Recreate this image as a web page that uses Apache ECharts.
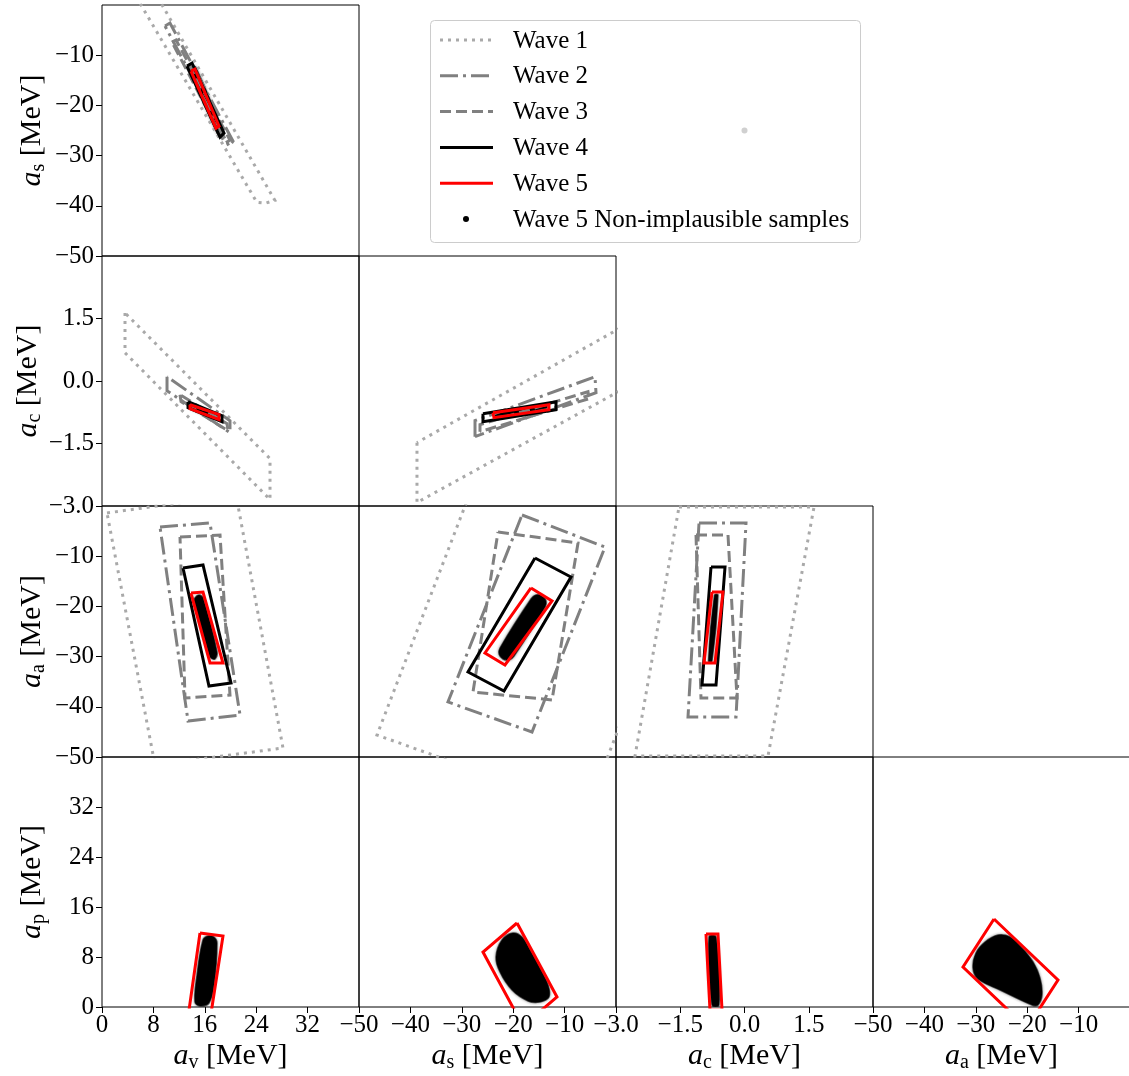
<!DOCTYPE html>
<html>
<head>
<meta charset="utf-8">
<script src="https://cdn.jsdelivr.net/npm/echarts@6/dist/echarts.min.js"></script>
<style>
  html, body { margin: 0; padding: 0; background: #fff; }
  #chart { width: 1129px; height: 1076px; }
</style>
</head>
<body>
<div id="chart"></div>
<script>
// ---- axis ticks for each mass-formula parameter ----
const avTicks = [0, 8, 16, 24, 32];          // volume term
const asTicks = [-50, -40, -30, -20, -10];   // surface term
const acTicks = [-3.0, -1.5, 0.0, 1.5];      // Coulomb term
const aaTicks = [-50, -40, -30, -20, -10];   // asymmetry term
const apTicks = [0, 8, 16, 24, 32];          // pairing term

const waveNames = ['Wave 1', 'Wave 2', 'Wave 3', 'Wave 4', 'Wave 5'];
const sampleName = 'Wave 5 Non-implausible samples';

// ---- non-implausible region outlines, one array per wave and panel ----
// a_v vs a_s
const avAs_w1 = [[4.7, 3], [24.1, -39.3], [25.4, -39.5], [26.9, -38.9], [8.0, 3]];
const avAs_w2 = [[9.81, -4.19], [10.58, -3.59], [20.39, -27.13], [19.77, -28.13]];
const avAs_w3 = [[10.89, -7.38], [11.52, -6.98], [19.92, -26.93], [19.14, -27.53]];
const avAs_w4 = [[13.23, -12.17], [14.01, -11.57], [18.99, -25.53], [18.37, -26.33]];
const avAs_w5 = [[13.85, -13.17], [14.47, -12.77], [18.21, -24.14], [17.74, -24.54]];
const avAs_samples = [[13.9, -12.6], [14.6, -12.4], [18.6, -25.2], [18.0, -25.7]];

// a_v vs a_c
const avAc_w1 = [[3.58, 1.635], [3.58, 0.677], [26.15, -2.844], [26.15, -1.862]];
const avAc_w2 = [[10.12, 0.102], [10.12, -0.234], [19.92, -1.240], [19.92, -0.952]];
const avAc_w3 = [[12.14, -0.329], [12.30, -0.497], [19.61, -1.192], [19.46, -1.024]];
const avAc_w4 = [[13.39, -0.497], [13.39, -0.641], [18.68, -0.976], [18.68, -0.832]];
const avAc_w5 = [[13.70, -0.569], [13.70, -0.665], [18.21, -0.928], [18.21, -0.808]];
const avAc_samples = [[13.9, -0.6], [14.0, -0.68], [18.0, -0.9], [17.9, -0.82]];

// a_s vs a_c
const asAc_w1 = [[-38.72, -1.479], [-38.72, -2.916], [4.67, 0.030], [4.67, 1.539]];
const asAc_w2 = [[-27.43, -1.335], [-27.43, -0.952], [-4.09, 0.102], [-3.89, -0.281]];
const asAc_w3 = [[-26.46, -1.216], [-26.46, -1.048], [-5.45, -0.257], [-5.25, -0.425]];
const asAc_w4 = [[-25.88, -0.784], [-25.88, -0.976], [-11.67, -0.689], [-11.67, -0.497]];
const asAc_w5 = [[-23.93, -0.760], [-23.74, -0.880], [-13.04, -0.689], [-13.04, -0.569]];
const asAc_samples = [[-23.5, -0.78], [-23.4, -0.84], [-13.5, -0.65], [-13.5, -0.6]];

// a_v vs a_a
const avAa_w1 = [[0.78, -1.39], [20.86, 2.19], [28.17, -48.21], [8.25, -51.59]];
const avAa_w2 = [[9.03, -4.18], [16.81, -3.39], [21.48, -41.63], [13.39, -42.83]];
const avAa_w3 = [[12.14, -6.18], [18.37, -5.78], [19.92, -37.65], [12.92, -38.25]];
const avAa_w4 = [[12.61, -12.35], [15.72, -11.75], [20.08, -35.26], [16.65, -35.86]];
const avAa_w5 = [[13.85, -17.33], [15.72, -17.13], [18.83, -31.27], [16.81, -31.27]];
const avAa_samples = [[14.47, -18.33], [15.10, -17.73], [15.72, -18.33], [17.90, -29.08],
  [17.59, -30.48], [16.96, -30.28], [16.65, -29.48], [14.32, -19.12]];

// a_s vs a_a
const asAa_w1 = [[-27.43, 5.18], [-46.50, -45.62], [-5.64, -60.56], [19.26, 5.18]];
const asAa_w2 = [[-18.29, -1.79], [-2.14, -8.17], [-16.34, -45.02], [-32.69, -39.04]];
const asAa_w3 = [[-22.96, -5.18], [-7.39, -7.37], [-12.45, -38.64], [-27.82, -37.05]];
const asAa_w4 = [[-15.76, -10.36], [-8.76, -14.14], [-21.79, -36.85], [-28.79, -33.07]];
const asAa_w5 = [[-16.54, -16.33], [-12.45, -18.92], [-21.60, -31.67], [-25.49, -29.28]];
const asAa_samples = [[-16.54, -18.53], [-15.57, -17.73], [-14.40, -17.93], [-13.62, -18.92],
  [-13.81, -20.12], [-19.84, -29.88], [-20.82, -30.68], [-21.98, -30.48], [-22.76, -29.48], [-22.57, -28.29]];

// a_c vs a_a
const acAa_w1 = [[-1.529, -0.2], [1.623, -0.2], [0.549, -49.8], [-2.556, -49.8]];
const acAa_w2 = [[-1.062, -3.39], [0.035, -3.39], [-0.198, -42.03], [-1.319, -42.03]];
const acAa_w3 = [[-1.132, -5.78], [-0.385, -5.78], [-0.175, -38.25], [-1.016, -38.25]];
const acAa_w4 = [[-0.782, -12.15], [-0.455, -12.15], [-0.665, -35.66], [-0.992, -35.66]];
const acAa_w5 = [[-0.759, -17.13], [-0.502, -17.13], [-0.689, -31.27], [-0.946, -31.27]];
const acAa_samples = [[-0.700, -17.73], [-0.619, -17.73], [-0.759, -30.88], [-0.840, -30.88]];

// a_v vs a_p
const avAp_w5 = [[15.25, 11.84], [18.83, 11.36], [16.81, -2.08], [13.39, -1.6]];
const avAp_samples = [[15.72, 10.72], [16.50, 11.36], [17.43, 11.2], [17.90, 10.24], [17.43, 3.52],
  [16.65, 0.64], [15.25, 0.16], [14.47, 0.8], [14.79, 5.12]];

// a_s vs a_p
const asAp_w5 = [[-19.26, 13.44], [-11.48, 1.6], [-18.09, -3.04], [-25.88, 8.8]];
const asAp_samples = [[-20.04, 11.84], [-18.29, 11.2], [-16.73, 9.12], [-14.79, 6.24], [-13.23, 3.52],
  [-13.04, 1.6], [-14.79, 0.8], [-17.12, 0.96], [-20.23, 2.72], [-22.57, 5.6], [-23.35, 8.0], [-22.18, 10.72]];

// a_c vs a_p
const acAp_w5 = [[-0.899, 11.68], [-0.619, 11.68], [-0.525, -0.48], [-0.806, -0.48]];
const acAp_samples = [[-0.829, 11.2], [-0.665, 11.2], [-0.595, 0.32], [-0.759, 0.32]];

// a_a vs a_p
const aaAp_w5 = [[-26.46, 14.08], [-14.01, 4.32], [-20.04, -3.36], [-32.49, 6.4]];
const aaAp_samples = [[-28.21, 10.4], [-25.68, 11.52], [-23.35, 11.2], [-21.01, 9.44], [-18.87, 7.2],
  [-17.51, 4.64], [-17.12, 1.92], [-17.90, 0.32], [-19.07, 0.32], [-25.29, 2.72], [-29.57, 4.48],
  [-30.55, 6.24], [-29.96, 8.64]];

// a single stray sample in the unused (a_c, a_s) cell
const acAs_stray = [[0.0, -25.0]];

// ---- layout ----
const FONT = 'Liberation Serif';
const colLeft = [102, 359, 616, 873];
const colWidth = 257;
const rowTop = [5, 256, 506, 757];
const rowBottom = [256, 506, 757, 1007];

const params = {
  v: { ticks: avTicks, sub: 'v', digits: 0, col: 0 },
  s: { ticks: asTicks, sub: 's', digits: 0, col: 1, row: 0 },
  c: { ticks: acTicks, sub: 'c', digits: 1, col: 2, row: 1 },
  a: { ticks: aaTicks, sub: 'a', digits: 0, col: 3, row: 2 },
  p: { ticks: apTicks, sub: 'p', digits: 0, row: 3 }
};

const panels = [
  { x: 'v', y: 's', polys: [avAs_w1, avAs_w2, avAs_w3, avAs_w4, avAs_w5], samples: avAs_samples },
  { x: 'v', y: 'c', polys: [avAc_w1, avAc_w2, avAc_w3, avAc_w4, avAc_w5], samples: avAc_samples },
  { x: 's', y: 'c', polys: [asAc_w1, asAc_w2, asAc_w3, asAc_w4, asAc_w5], samples: asAc_samples },
  { x: 'v', y: 'a', polys: [avAa_w1, avAa_w2, avAa_w3, avAa_w4, avAa_w5], samples: avAa_samples },
  { x: 's', y: 'a', polys: [asAa_w1, asAa_w2, asAa_w3, asAa_w4, asAa_w5], samples: asAa_samples },
  { x: 'c', y: 'a', polys: [acAa_w1, acAa_w2, acAa_w3, acAa_w4, acAa_w5], samples: acAa_samples },
  { x: 'v', y: 'p', polys: [null, null, null, null, avAp_w5], samples: avAp_samples },
  { x: 's', y: 'p', polys: [null, null, null, null, asAp_w5], samples: asAp_samples },
  { x: 'c', y: 'p', polys: [null, null, null, null, acAp_w5], samples: acAp_samples },
  { x: 'a', y: 'p', polys: [null, null, null, null, aaAp_w5], samples: aaAp_samples }
];

const waveStyles = [
  { color: '#a9a9a9', width: 3, type: [3, 5], cap: 'butt', join: 'miter' },
  { color: '#808080', width: 3, type: [18, 5, 3, 5], cap: 'butt', join: 'miter' },
  { color: '#808080', width: 3, type: [11, 5], cap: 'butt', join: 'miter' },
  { color: '#000000', width: 3, type: 'solid', join: 'miter' },
  { color: '#ff0000', width: 3, type: 'solid', join: 'miter' }
];

function fmt(v, digits) {
  const s = Math.abs(v).toFixed(digits);
  return (v < 0 ? '\u2212' : '') + s;
}

function axisName(key) {
  return '{i|a}{sub|' + params[key].sub + '} [MeV]';
}

const nameStyle = {
  fontFamily: FONT, fontSize: 30, color: '#000',
  rich: {
    i: { fontFamily: FONT, fontSize: 30, fontStyle: 'italic', color: '#000' },
    sub: { fontFamily: FONT, fontSize: 20, color: '#000', padding: [14, 0, 0, 0] }
  }
};

function makeAxis(key, gridIndex, isX, showLabels) {
  const t = params[key].ticks;
  const interval = t[1] - t[0];
  const min = t[0];
  const max = min + interval * t.length;
  const ax = {
    type: 'value', gridIndex, min, max, interval,
    axisLine: { show: false },
    splitLine: { show: false },
    axisTick: { show: showLabels, inside: false, length: 6, lineStyle: { color: '#000', width: 1 } },
    axisLabel: {
      show: showLabels, showMaxLabel: false, showMinLabel: true,
      fontFamily: FONT, fontSize: 25, color: '#000', margin: isX ? 6 : 8,
      formatter: (v) => fmt(v, params[key].digits)
    }
  };
  if (showLabels) {
    ax.name = axisName(key);
    ax.nameLocation = 'middle';
    ax.nameTextStyle = nameStyle;
    if (isX) {
      ax.nameGap = 32;
    } else {
      ax.nameGap = 53;
      ax.nameRotate = 90;
    }
  }
  return ax;
}

const grids = [], xAxes = [], yAxes = [], series = [];

panels.forEach((p, i) => {
  const col = params[p.x].col;
  const row = params[p.y].row;
  grids.push({
    left: colLeft[col], top: rowTop[row], width: colWidth, height: rowBottom[row] - rowTop[row],
    show: true, borderColor: '#000', borderWidth: 1, backgroundColor: 'transparent',
    outerBoundsMode: 'none', containLabel: false
  });
  xAxes.push(makeAxis(p.x, i, true, row === 3));
  yAxes.push(makeAxis(p.y, i, false, col === 0));

  // dense cloud of accepted samples, drawn as its filled outline
  const pts = p.samples;
  series.push({
    type: 'custom', name: sampleName, xAxisIndex: i, yAxisIndex: i,
    data: pts, clip: true, silent: true, z: 1,
    renderItem: (params2, api) => {
      if (params2.dataIndex !== 0) return null;
      const poly = pts.map((q) => api.coord(q));
      return {
        type: 'polygon',
        shape: { points: poly, smooth: 0.35 },
        style: { fill: '#000', stroke: 'rgba(0,0,0,0.6)', lineWidth: 1.5,
                 shadowBlur: 3, shadowColor: 'rgba(0,0,0,0.45)' }
      };
    }
  });

  p.polys.forEach((poly, w) => {
    if (!poly) return;
    series.push({
      type: 'line', name: waveNames[w], xAxisIndex: i, yAxisIndex: i,
      data: poly.concat([poly[0]]),
      symbol: 'none', silent: true, clip: true, z: 2 + w,
      lineStyle: waveStyles[w],
      itemStyle: { color: waveStyles[w].color }
    });
  });
});

// hidden cell holding the stray sample point (drawn above the legend frame)
const strayIdx = grids.length;
grids.push({ left: colLeft[2], top: rowTop[0], width: colWidth, height: rowBottom[0] - rowTop[0], show: false });
xAxes.push({ type: 'value', gridIndex: strayIdx, min: -3, max: 3, show: false });
yAxes.push({ type: 'value', gridIndex: strayIdx, min: -50, max: 0, show: false });
series.push({
  type: 'scatter', xAxisIndex: strayIdx, yAxisIndex: strayIdx, data: acAs_stray,
  symbolSize: 6, silent: true, z: 200, itemStyle: { color: '#c4c4c4' }
});

// ---- legend box ----
const legendX = 430, legendY = 20, rowGap = 35.8;
const legendElems = [{
  type: 'rect', left: legendX, top: legendY, z: 100,
  shape: { width: 430, height: 222, r: 4 },
  style: { fill: '#fff', stroke: '#cccccc', lineWidth: 1 }
}];
waveNames.forEach((nm, k) => {
  const y = 40 + k * rowGap;
  const st = waveStyles[k];
  legendElems.push({
    type: 'line', z: 101,
    shape: { x1: 440, y1: y, x2: 493, y2: y },
    style: { stroke: st.color, lineWidth: 3, lineDash: Array.isArray(st.type) ? st.type : null, lineCap: 'butt' }
  });
  legendElems.push({
    type: 'text', z: 101, x: 513, y: y + 1,
    style: { text: nm, fontFamily: FONT, fontSize: 25, fill: '#000', verticalAlign: 'middle', align: 'left' }
  });
});
const sy = 40 + 5 * rowGap;
legendElems.push({ type: 'circle', z: 101, shape: { cx: 466, cy: sy, r: 3 }, style: { fill: '#000' } });
legendElems.push({
  type: 'text', z: 101, x: 513, y: sy + 1,
  style: { text: sampleName, fontFamily: FONT, fontSize: 25, fill: '#000', verticalAlign: 'middle', align: 'left' }
});

const chart = echarts.init(document.getElementById('chart'), null, { renderer: 'canvas' });
chart.setOption({
  animation: false,
  backgroundColor: '#fff',
  grid: grids,
  xAxis: xAxes,
  yAxis: yAxes,
  series: series,
  graphic: { elements: legendElems }
});
</script>
</body>
</html>
